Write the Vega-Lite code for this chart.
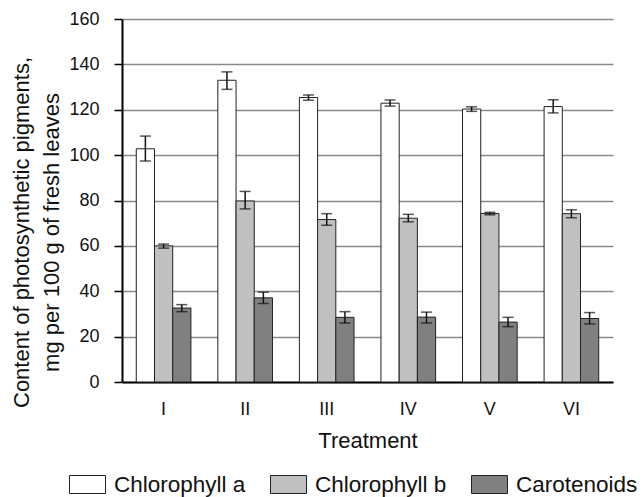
{
  "$schema": "https://vega.github.io/schema/vega-lite/v6.json",
  "width": 491,
  "height": 363,
  "autosize": {"type": "none"},
  "padding": {"left": 122, "top": 19, "right": 30, "bottom": 115},
  "background": "white",
  "config": {
    "font": "Liberation Sans",
    "view": {"stroke": null},
    "axis": {"labelColor": "#111", "titleColor": "#111", "titleFontWeight": "normal"}
  },
  "data": {
    "values": [
      {"treatment": "I", "pigment": "Chlorophyll a", "value": 102.8, "lo": 97.4, "hi": 108.4},
      {"treatment": "I", "pigment": "Chlorophyll b", "value": 60.0, "lo": 59.0, "hi": 60.8},
      {"treatment": "I", "pigment": "Carotenoids", "value": 32.6, "lo": 31.0, "hi": 34.1},
      {"treatment": "II", "pigment": "Chlorophyll a", "value": 133.0, "lo": 129.0, "hi": 136.7},
      {"treatment": "II", "pigment": "Chlorophyll b", "value": 79.8, "lo": 76.3, "hi": 84.0},
      {"treatment": "II", "pigment": "Carotenoids", "value": 37.1, "lo": 34.6, "hi": 39.6},
      {"treatment": "III", "pigment": "Chlorophyll a", "value": 125.4, "lo": 124.2, "hi": 126.5},
      {"treatment": "III", "pigment": "Chlorophyll b", "value": 71.6, "lo": 69.1, "hi": 74.2},
      {"treatment": "III", "pigment": "Carotenoids", "value": 28.5, "lo": 26.0, "hi": 31.0},
      {"treatment": "IV", "pigment": "Chlorophyll a", "value": 122.9, "lo": 121.6, "hi": 124.3},
      {"treatment": "IV", "pigment": "Chlorophyll b", "value": 72.2, "lo": 70.6, "hi": 73.9},
      {"treatment": "IV", "pigment": "Carotenoids", "value": 28.6, "lo": 26.0, "hi": 30.8},
      {"treatment": "V", "pigment": "Chlorophyll a", "value": 120.3, "lo": 119.3, "hi": 121.3},
      {"treatment": "V", "pigment": "Chlorophyll b", "value": 74.3, "lo": 73.7, "hi": 74.8},
      {"treatment": "V", "pigment": "Carotenoids", "value": 26.4, "lo": 24.4, "hi": 28.5},
      {"treatment": "VI", "pigment": "Chlorophyll a", "value": 121.4, "lo": 118.6, "hi": 124.4},
      {"treatment": "VI", "pigment": "Chlorophyll b", "value": 74.2, "lo": 72.4, "hi": 75.9},
      {"treatment": "VI", "pigment": "Carotenoids", "value": 28.0, "lo": 25.6, "hi": 30.6}
    ]
  },
  "encoding": {
    "x": {
      "field": "treatment",
      "type": "nominal",
      "sort": ["I", "II", "III", "IV", "V", "VI"],
      "scale": {"paddingInner": 0.33, "paddingOuter": 0.175},
      "axis": {
        "title": "Treatment",
        "titleFontSize": 22,
        "titleY": 48,
        "titleBaseline": "top",
        "labelFontSize": 18,
        "labelAngle": 0,
        "labelPadding": 18,
        "ticks": false,
        "tickSize": 0,
        "domainColor": "#000",
        "domainWidth": 2,
        "grid": false
      }
    },
    "xOffset": {
      "field": "pigment",
      "type": "nominal",
      "sort": ["Chlorophyll a", "Chlorophyll b", "Carotenoids"],
      "scale": {"paddingInner": 0, "paddingOuter": 0}
    }
  },
  "layer": [
    {
      "mark": {"type": "bar", "stroke": "#222", "strokeWidth": 1},
      "encoding": {
        "y": {
          "field": "value",
          "type": "quantitative",
          "scale": {"domain": [0, 160], "nice": false},
          "axis": {
            "title": ["Content of photosynthetic pigments,", "mg per 100 g of fresh leaves"],
            "titleFontSize": 22,
            "titleLineHeight": 30,
            "titleAngle": -90,
            "titleAlign": "center",
            "titleBaseline": "alphabetic",
            "titleX": -94,
            "titleY": 213,
            "values": [0, 20, 40, 60, 80, 100, 120, 140, 160],
            "labelFontSize": 18,
            "labelPadding": 15,
            "tickSize": 8,
            "tickColor": "#000",
            "tickWidth": 1.5,
            "domainColor": "#000",
            "domainWidth": 2,
            "gridColor": "#8a8a8a",
            "gridWidth": 1.5
          }
        },
        "fill": {
          "field": "pigment",
          "type": "nominal",
          "sort": ["Chlorophyll a", "Chlorophyll b", "Carotenoids"],
          "scale": {"domain": ["Chlorophyll a", "Chlorophyll b", "Carotenoids"], "range": ["#ffffff", "#c0c0c0", "#808080"]},
          "legend": {
            "title": null,
            "orient": "none",
            "direction": "horizontal",
            "legendX": -53,
            "legendY": 447,
            "symbolType": "M-1,-0.5H1V0.5H-1Z",
            "symbolSize": 1296,
            "symbolStrokeColor": "#222",
            "symbolStrokeWidth": 1,
            "symbolOpacity": 1,
            "labelFontSize": 22.5,
            "labelColor": "#111",
            "labelOffset": 8,
            "columnPadding": 22,
            "padding": 0,
            "labelLimit": 300
          }
        }
      }
    },
    {
      "mark": {"type": "rule", "color": "#111", "strokeWidth": 1.5},
      "encoding": {
        "y": {"field": "lo", "type": "quantitative"},
        "y2": {"field": "hi"}
      }
    },
    {
      "mark": {"type": "tick", "color": "#111", "thickness": 1.5, "size": 11},
      "encoding": {"y": {"field": "lo", "type": "quantitative"}}
    },
    {
      "mark": {"type": "tick", "color": "#111", "thickness": 1.5, "size": 11},
      "encoding": {"y": {"field": "hi", "type": "quantitative"}}
    }
  ]
}
